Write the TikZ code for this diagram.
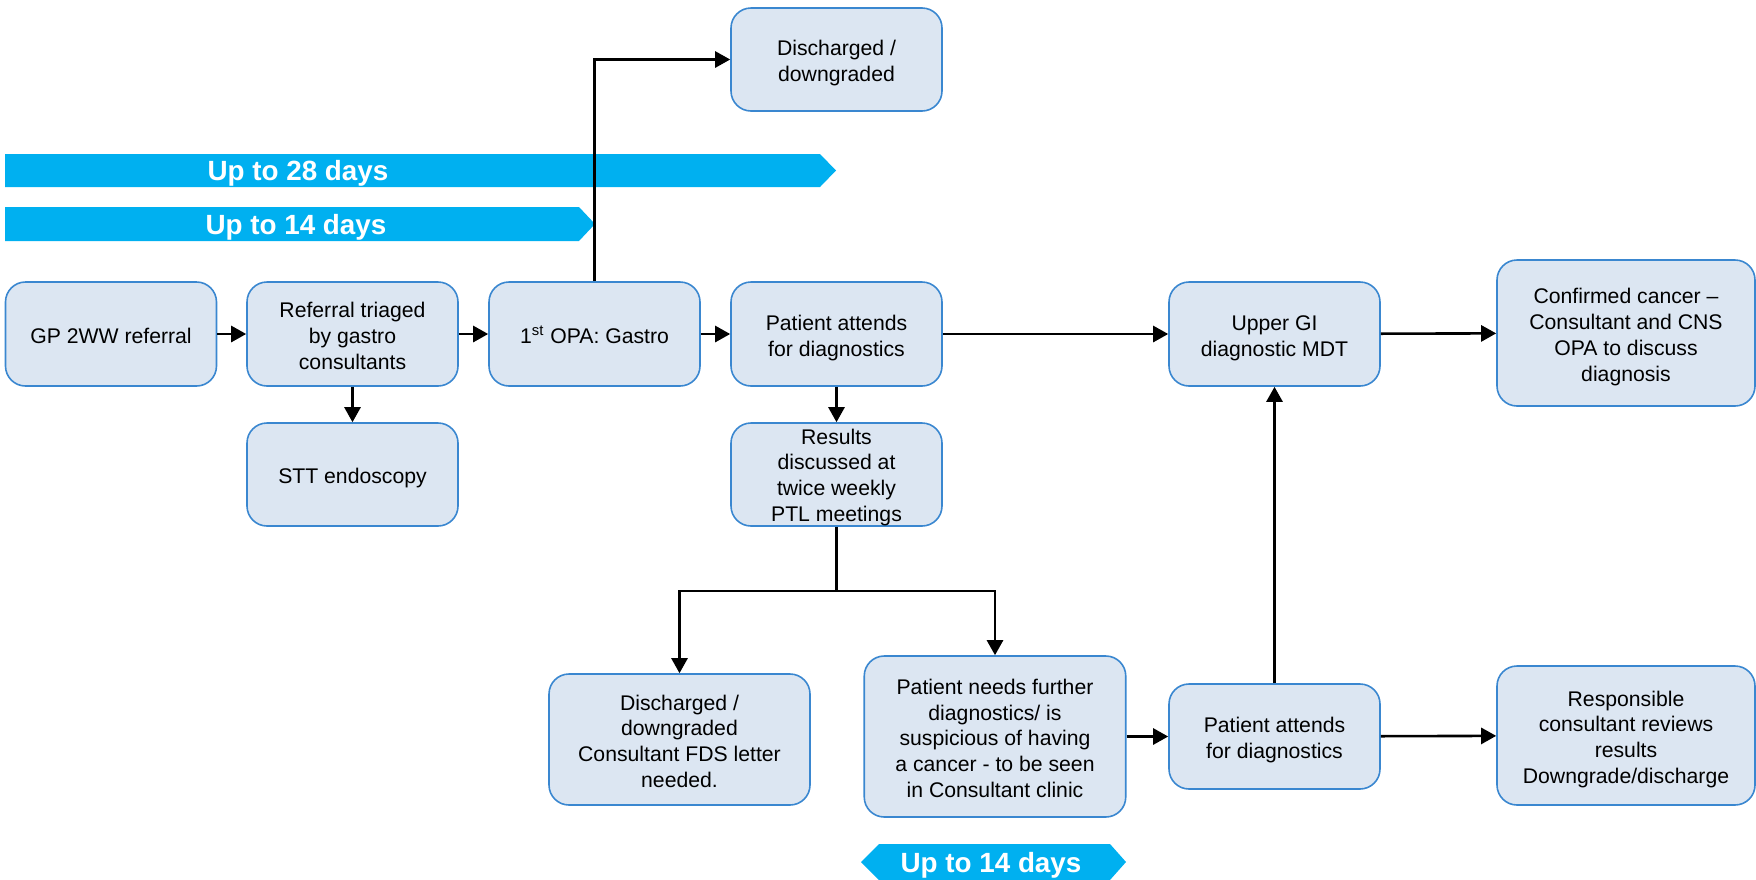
\documentclass[tikz,border=0pt]{standalone}
\usepackage{fontspec}
\setmainfont{Liberation Sans}
\usetikzlibrary{arrows.meta}
\definecolor{boxfill}{HTML}{DCE6F2}
\definecolor{boxline}{HTML}{3A87D0}
\definecolor{band}{HTML}{00B0F0}
\newcommand\ts{\rule{0pt}{11.5pt}}
\newcommand\bs{\rule[-2.2pt]{0pt}{2.2pt}}
\tikzset{
  box/.style={draw=boxline, fill=boxfill, line width=0.8pt, rounded corners=10pt,
    align=center, inner sep=2pt, font=\fontsize{10.6}{12.9}\selectfont},
  conn/.style={line width=1.3pt, -{Triangle[length=7.5pt,width=8pt]}},
  bandshape/.style={fill=band, draw=none},
  bandtext/.style={text=white, font=\fontsize{13.9}{16}\selectfont\bfseries}
}
\begin{document}
\begin{tikzpicture}[x=0.5pt,y=-0.5pt]
\useasboundingbox (0,0) rectangle (1756,879);
% time bands
\path[bandshape] (5,154) -- (820,154) -- (836,170.5) -- (820,187) -- (5,187) -- cycle;
\node[bandtext] (l28) at (298,173.5) {Up to 28 days};
\path[bandshape] (5,207) -- (579,207) -- (595,224) -- (579,241) -- (5,241) -- cycle;
\node[bandtext] (l14) at (296,227.5) {Up to 14 days};
\path[bandshape] (861,862) -- (879,844) -- (1110,844) -- (1126,862) -- (1110,880) -- (879,880) -- cycle;
\node[bandtext] (lb) at (991,865.5) {Up to 14 days};
% boxes
\node[box, minimum width=105.5pt, minimum height=52pt] (gp) at (111,334) {\ts GP 2WW referral\bs};
\node[box, minimum width=105.5pt, minimum height=52pt] (tri) at (352.5,334) {\ts Referral triaged\\by gastro\\consultants\bs};
\node[box, minimum width=105.5pt, minimum height=52pt] (opa) at (594.5,334) {\ts 1\textsuperscript{st} OPA: Gastro\bs};
\node[box, minimum width=105.5pt, minimum height=52pt] (att) at (836.5,334) {\ts Patient attends\\for diagnostics\bs};
\node[box, minimum width=105.5pt, minimum height=51.5pt] (dis) at (836.5,59.5) {\ts Discharged /\\downgraded\bs};
\node[box, minimum width=105.5pt, minimum height=51.5pt] (stt) at (352.5,474.5) {\ts STT endoscopy\bs};
\node[box, minimum width=105.5pt, minimum height=51.5pt, inner ysep=0pt] (res) at (836.5,474.5) {\rule{0pt}{10.5pt}Results\\discussed at\\twice weekly\\PTL meetings\bs};
\node[box, minimum width=105.5pt, minimum height=52pt] (mdt) at (1274.5,334) {\ts Upper GI\\diagnostic MDT\bs};
\node[box, minimum width=129pt, minimum height=73pt] (conf) at (1626,333) {\ts Confirmed cancer --\\Consultant and CNS\\OPA to discuss\\diagnosis\bs};
\node[box, minimum width=130.5pt, minimum height=65.5pt] (fds) at (679.5,739.5) {\ts Discharged /\\downgraded\\Consultant FDS letter\\needed.\bs};
\node[box, minimum width=130.75pt, minimum height=80.5pt] (need) at (995,736.5) {\ts Patient needs further\\diagnostics/ is\\suspicious of having\\a cancer - to be seen\\in Consultant clinic\bs};
\node[box, minimum width=105.5pt, minimum height=52.5pt] (att2) at (1274.5,736.5) {\ts Patient attends\\for diagnostics\bs};
\node[box, minimum width=129pt, minimum height=69.5pt] (resp) at (1626,735.5) {\ts Responsible\\consultant reviews\\results\\Downgrade/discharge\bs};
% connectors
\draw[conn] (gp) -- (tri);
\draw[conn] (tri) -- (opa);
\draw[conn] (opa) -- (att);
\draw[conn] (opa.north) |- (dis.west);
\draw[conn] (tri) -- (stt);
\draw[conn] (att) -- (res);
\draw[conn] (att) -- (mdt);
\draw[conn] (mdt) -- (conf);
\coordinate (split) at (836.5,591);
\draw[line width=1.3pt] (res.south) -- (split);
\draw[conn] (split) -| (fds.north);
\draw[conn] (split) -| (need.north);
\draw[conn] (need) -- (att2);
\draw[conn] (att2) -- (mdt);
\draw[conn] (att2) -- (resp);
\end{tikzpicture}
\end{document}
